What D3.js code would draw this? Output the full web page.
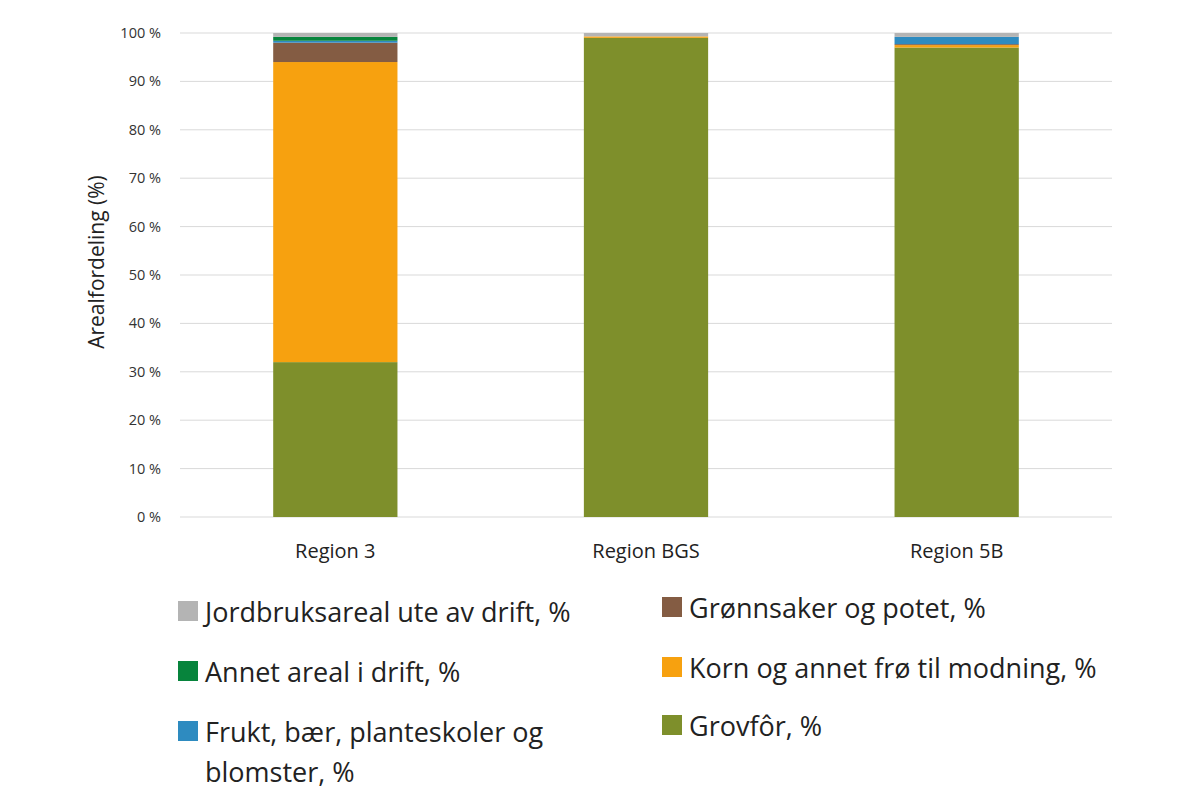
<!DOCTYPE html><html><head><meta charset="utf-8"><script src="https://cdn.jsdelivr.net/npm/d3@7"></script>
<style>body{margin:0;background:#fff;font-family:"Open Sans",sans-serif}</style></head><body><svg width="1200" height="800"></svg><script>
const categories=["Region 3","Region BGS","Region 5B"];
const seriesNames=["Grovfôr, %","Korn og annet frø til modning, %","Grønnsaker og potet, %","Frukt, bær, planteskoler og blomster, %","Annet areal i drift, %","Jordbruksareal ute av drift, %"];
const colors=["#7E8F2B","#F7A10F","#845C43","#2E8BC0","#07843C","#B4B4B4"];
const grovfor=[32,99,97];
const korn=[62,0.3,0.5];
const gronn=[4,0,0.2];
const frukt=[0.4,0,1.5];
const annet=[0.8,0,0];
const ute=[0.8,0.7,0.8];
const yTicks=[0,10,20,30,40,50,60,70,80,90,100];
const vals=[grovfor,korn,gronn,frukt,annet,ute];
const svg=d3.select("svg");
const x=d3.scaleBand().domain(categories).range([180,1112]).paddingInner(0.6).paddingOuter(0.3);
const y=d3.scaleLinear().domain([0,100]).range([517,33]);
svg.append("g").selectAll("line").data(yTicks).join("line").attr("x1",180).attr("x2",1112).attr("y1",d=>y(d)).attr("y2",d=>y(d)).attr("stroke","#d9d9d9");
svg.append("g").selectAll("text").data(yTicks).join("text").attr("x",161).attr("y",d=>y(d)+5).attr("text-anchor","end").attr("font-size",14.5).attr("fill","#333").text(d=>d+" %");
const data=categories.map((c,i)=>{const o={cat:c};seriesNames.forEach((s,j)=>o[s]=vals[j][i]);return o;});
const st=d3.stack().keys(seriesNames)(data);
st.forEach((layer,j)=>svg.append("g").selectAll("rect").data(layer).join("rect").attr("x",d=>x(d.data.cat)).attr("width",x.bandwidth()).attr("y",d=>y(d[1])).attr("height",d=>y(d[0])-y(d[1])).attr("fill",colors[j]));
svg.append("g").selectAll("text").data(categories).join("text").attr("x",d=>x(d)+x.bandwidth()/2).attr("y",558).attr("text-anchor","middle").attr("font-size",20).attr("fill","#222").text(d=>d);
svg.append("text").attr("transform","translate(104,262) rotate(-90)").attr("text-anchor","middle").attr("font-size",21).attr("fill","#222").text("Arealfordeling (%)");
const leg=[{i:5,x:178,y:612,lines:["Jordbruksareal ute av drift, %"]},{i:4,x:178,y:672,lines:["Annet areal i drift, %"]},{i:3,x:178,y:732,lines:["Frukt, bær, planteskoler og","blomster, %"]},{i:2,x:662,y:608,lines:["Grønnsaker og potet, %"]},{i:1,x:662,y:668,lines:["Korn og annet frø til modning, %"]},{i:0,x:662,y:726,lines:["Grovfôr, %"]}];
leg.forEach(l=>{svg.append("rect").attr("x",l.x).attr("y",l.y-11).attr("width",20).attr("height",20).attr("fill",colors[l.i]);
l.lines.forEach((t,k)=>svg.append("text").attr("x",l.x+27).attr("y",l.y+10+k*40).attr("font-size",27).attr("fill","#222").text(t));});
</script></body></html>
